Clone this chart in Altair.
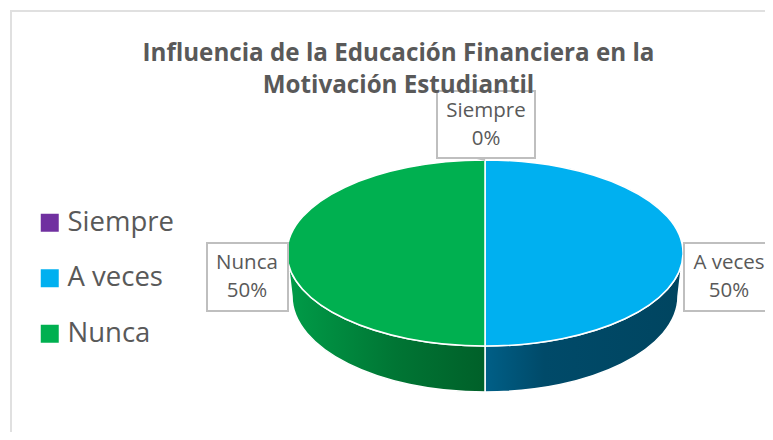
import math
import altair as alt
import pandas as pd

# --- data ---
categories = ["Siempre", "A veces", "Nunca"]
values = [0, 50, 50]
slice_colors = ["#7030A0", "#00B0F0", "#00B050"]
title_lines = ["Influencia de la Educación Financiera en la", "Motivación Estudiantil"]

FONT = "Open Sans"
TEXT = "#595959"
BOX = "#BFBFBF"

# --- pie geometry (page px minus the 8px margin) ---
CX, CY, RX, RY = 477, 245, 198, 93
BOT_DY, BOT_RX, BOT_RY = 43, 193, 96
SIZE = (2 * RX) ** 2


def top_pt(a):
    r = math.radians(a)
    return math.sin(r), -RY / RX * math.cos(r)


def bot_pt(a):
    r = math.radians(a)
    return BOT_RX / RX * math.sin(r), BOT_DY / RX - BOT_RY / RX * math.cos(r)


def slice_path(a0, a1):
    if a1 <= a0:
        return "M0,0"
    x0, y0 = top_pt(a0)
    x1, y1 = top_pt(a1)
    large = 1 if a1 - a0 > 180 else 0
    return f"M0,0L{x0:.5f},{y0:.5f}A1,{RY / RX:.5f} 0 {large} 1 {x1:.5f},{y1:.5f}Z"


def wall_path(a0, a1):
    v0, v1 = max(a0, 90), min(a1, 270)
    if v1 <= v0:
        return None
    x0, y0 = top_pt(v0)
    x1, y1 = top_pt(v1)
    bx0, by0 = bot_pt(v0)
    bx1, by1 = bot_pt(v1)
    return (
        f"M{x0:.5f},{y0:.5f}A1,{RY / RX:.5f} 0 0 1 {x1:.5f},{y1:.5f}"
        f"L{bx1:.5f},{by1:.5f}A{BOT_RX / RX:.5f},{BOT_RY / RX:.5f} 0 0 0 {bx0:.5f},{by0:.5f}Z"
    )


total = sum(values)
angles = [0]
for v in values:
    angles.append(angles[-1] + 360 * v / total)
top_paths = [slice_path(angles[i], angles[i + 1]) for i in range(len(values))]
wall_paths = [wall_path(angles[i], angles[i + 1]) for i in range(len(values))]

df = pd.DataFrame({"cat": categories, "val": values})
df["label"] = [f"{c}\n{round(100 * v / total)}%" for c, v in zip(categories, values)]


def grad(stops):
    return {
        "gradient": "linear",
        "x1": 0, "x2": 1, "y1": 0, "y2": 0,
        "stops": [{"offset": o, "color": c} for o, c in stops],
    }


wall_fills = {
    "A veces": grad([(0, "#005F87"), (0.3, "#004A69"), (1, "#004560")]),
    "Nunca": grad([(0, "#009C48"), (0.55, "#007534"), (1, "#006029")]),
}

one = pd.DataFrame({"k": [0]})

frame = alt.Chart(one).mark_rect(fill="white", stroke="#E0E0E0", strokeWidth=2).encode(
    x=alt.value(3), x2=alt.value(900), y=alt.value(3), y2=alt.value(900)
)

walls = []
for i, cat in enumerate(categories):
    if wall_paths[i] is None or cat not in wall_fills:
        continue
    walls.append(
        alt.Chart(df[df.cat == cat])
        .mark_point(
            filled=True, opacity=1, shape=wall_paths[i], size=SIZE,
            color=wall_fills[cat], stroke="white", strokeWidth=1.5,
        )
        .encode(x=alt.value(CX), y=alt.value(CY))
    )

tops = []
for i, cat in enumerate(categories):
    if values[i] <= 0:
        continue
    tops.append(
        alt.Chart(df[df.cat == cat])
        .mark_point(
            filled=True, opacity=1, shape=top_paths[i], size=SIZE,
            color=slice_colors[i], stroke="white", strokeWidth=1.5,
        )
        .encode(x=alt.value(CX), y=alt.value(CY))
    )

legend_layer = (
    alt.Chart(df)
    .mark_point(filled=True, opacity=1, size=0)
    .encode(
        x=alt.value(CX),
        y=alt.value(CY),
        color=alt.Color(
            "cat:N",
            sort=categories,
            scale=alt.Scale(domain=categories, range=slice_colors),
            legend=alt.Legend(
                orient="none", legendX=28, legendY=201, title=None,
                symbolType="square", symbolSize=324, symbolStrokeWidth=0,
                labelFont=FONT, labelFontSize=27.5, labelColor=TEXT,
                rowPadding=26.5, labelOffset=4, symbolOffset=0,
            ),
        ),
    )
)

boxes_spec = {
    "Siempre": (429, 527, 83, 150, 478),
    "A veces": (676, 900, 235, 303, 721),
    "Nunca": (199, 280, 235, 303, 239),
}

label_layers = []
for cat, (x0, x1, y0, y1, tx) in boxes_spec.items():
    label_layers.append(
        alt.Chart(one).mark_rect(fill="white", stroke=BOX, strokeWidth=2).encode(
            x=alt.value(x0), x2=alt.value(x1), y=alt.value(y0), y2=alt.value(y1)
        )
    )
    label_layers.append(
        alt.Chart(df[df.cat == cat])
        .mark_text(
            font=FONT, fontSize=20.5, color=TEXT, lineBreak="\n", lineHeight=28,
            align="center", baseline="middle",
        )
        .encode(x=alt.value(tx), y=alt.value((y0 + y1) / 2 - 14), text="label:N")
    )

leader = alt.Chart(one).mark_rule(stroke=BOX, strokeWidth=2).encode(
    x=alt.value(469), x2=alt.value(477), y=alt.value(150), y2=alt.value(152)
)

chart = (
    alt.layer(frame, *walls, *tops, legend_layer, *label_layers, leader)
    .properties(
        width=757,
        height=424,
        padding=0,
        autosize=alt.AutoSizeParams(type="none"),
        background="white",
        title=alt.TitleParams(
            text=title_lines, font=FONT, fontSize=24.2, fontWeight="bold", color=TEXT,
            anchor="start", frame="group", align="center", dx=390.5, dy=90, lineHeight=32,
            baseline="top", offset=0,
        ),
    )
    .configure_view(stroke=None)
)

chart.save("out.html", embed_options={"renderer": "svg", "actions": False})
